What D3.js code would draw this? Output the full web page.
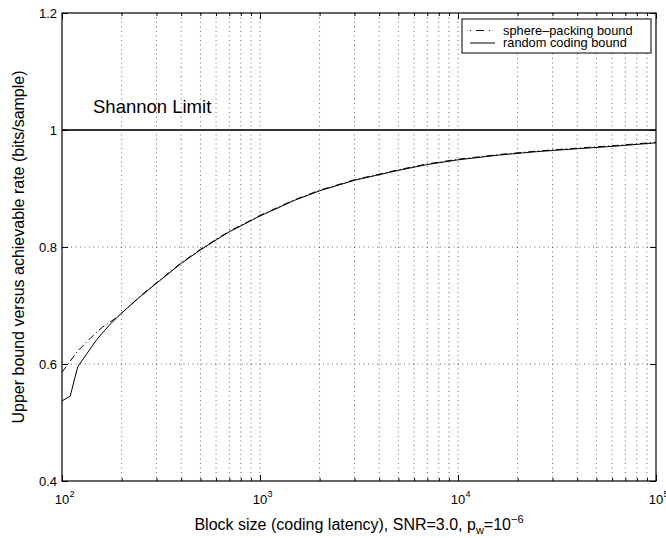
<!DOCTYPE html>
<html>
<head>
<meta charset="utf-8">
<script src="https://cdn.jsdelivr.net/npm/d3@7"></script>
<style>
  html, body { margin: 0; padding: 0; background: #fff; }
  svg { display: block; font-family: "Liberation Sans", Arial, Helvetica, sans-serif; }
</style>
</head>
<body>
<svg id="chart" width="666" height="538"></svg>
<script>
// Block sizes (samples) and rates (bits/sample) for the two bounds
const randomN = [100, 110, 120, 130, 150, 175, 200, 250, 300, 400, 500, 600, 700, 800, 1000,
                 1500, 2000, 3000, 5000, 7000, 10000, 16000, 25000, 40000, 60000, 100000];
const randomRate = [0.537, 0.545, 0.595, 0.612, 0.642, 0.668, 0.687, 0.716, 0.738, 0.772, 0.795,
                    0.812, 0.826, 0.836, 0.853, 0.880, 0.896, 0.914, 0.931, 0.941, 0.949, 0.957,
                    0.963, 0.968, 0.972, 0.978];

const spherePackN = [100, 110, 120, 140, 160, 190, 250, 300, 400, 500, 600, 700, 800, 1000,
                     1500, 2000, 3000, 5000, 7000, 10000, 16000, 25000, 40000, 60000, 100000];
const spherePackRate = [0.586, 0.605, 0.622, 0.645, 0.663, 0.680, 0.717, 0.739, 0.773, 0.796,
                        0.813, 0.827, 0.837, 0.854, 0.881, 0.897, 0.915, 0.932, 0.942, 0.950,
                        0.958, 0.964, 0.969, 0.973, 0.979];

const shannonLimit = 1.0;

const yTicks = [0.4, 0.6, 0.8, 1.0, 1.2];
const xMajorTicks = [100, 1000, 10000, 100000];
const xTickExponents = ["2", "3", "4", "5"];
const xMinorTicks = [];
[100, 1000, 10000].forEach(d => { for (let m = 2; m <= 9; m++) xMinorTicks.push(d * m); });

const seriesNames = ["sphere\u2013packing bound", "random coding bound"];

// Layout
const L = 62, R = 656, T = 13, B = 481;
const svg = d3.select("#chart");

const x = d3.scaleLog().domain([100, 100000]).range([L, R]);
const y = d3.scaleLinear().domain([0.4, 1.2]).range([B, T]);

// Dotted grid
const grid = svg.append("g").attr("stroke", "#000").attr("stroke-width", 0.6)
  .attr("stroke-dasharray", "1,3.5").attr("fill", "none");
xMajorTicks.concat(xMinorTicks).filter(d => d > 100 && d < 100000).forEach(d => {
  grid.append("line").attr("x1", x(d)).attr("x2", x(d)).attr("y1", T).attr("y2", B);
});
yTicks.filter(d => d > 0.4 && d < 1.2).forEach(d => {
  grid.append("line").attr("x1", L).attr("x2", R).attr("y1", y(d)).attr("y2", y(d));
});

// Shannon limit
svg.append("line")
  .attr("x1", x(100)).attr("x2", x(100000))
  .attr("y1", y(shannonLimit)).attr("y2", y(shannonLimit))
  .attr("stroke", "#333").attr("stroke-width", 2.2);

svg.append("text").attr("x", 93).attr("y", 113)
  .attr("font-size", 18.5).text("Shannon Limit");

// Curves
const line = d3.line().x(d => x(d[0])).y(d => y(d[1]));

svg.append("path")
  .datum(randomN.map((n, i) => [n, randomRate[i]]))
  .attr("d", line).attr("fill", "none").attr("stroke", "#000").attr("stroke-width", 1);

svg.append("path")
  .datum(spherePackN.map((n, i) => [n, spherePackRate[i]]))
  .attr("d", line).attr("fill", "none").attr("stroke", "#000").attr("stroke-width", 1)
  .attr("stroke-dasharray", "7,3,1,3");

// Axes with inward ticks
const axisG = svg.append("g");
axisG.append("g").attr("transform", `translate(0,${B})`)
  .call(d3.axisBottom(x).tickValues(xMajorTicks).tickSizeInner(-6).tickSizeOuter(0).tickFormat(""));
axisG.append("g").attr("transform", `translate(0,${B})`)
  .call(d3.axisBottom(x).tickValues(xMinorTicks).tickSizeInner(-3).tickSizeOuter(0).tickFormat(""));
axisG.append("g").attr("transform", `translate(0,${T})`)
  .call(d3.axisTop(x).tickValues(xMajorTicks).tickSizeInner(-6).tickSizeOuter(0).tickFormat(""));
axisG.append("g").attr("transform", `translate(0,${T})`)
  .call(d3.axisTop(x).tickValues(xMinorTicks).tickSizeInner(-3).tickSizeOuter(0).tickFormat(""));
const yAxisLeft = axisG.append("g").attr("transform", `translate(${L},0)`)
  .call(d3.axisLeft(y).tickValues(yTicks).tickSizeInner(-6).tickSizeOuter(0).tickPadding(5)
    .tickFormat(d => d === 1 ? "1" : d.toFixed(1)));
axisG.append("g").attr("transform", `translate(${R},0)`)
  .call(d3.axisRight(y).tickValues(yTicks).tickSizeInner(-6).tickSizeOuter(0).tickFormat(""));

axisG.selectAll(".domain").remove();
axisG.selectAll(".tick line").attr("stroke", "#000");
yAxisLeft.selectAll("text").attr("font-size", 13).attr("fill", "#000")
  .attr("font-family", "Liberation Sans, Arial, sans-serif");

// Frame
svg.append("rect").attr("x", L).attr("y", T).attr("width", R - L).attr("height", B - T)
  .attr("fill", "none").attr("stroke", "#000").attr("stroke-width", 1.2);

// x tick labels: 10^k
const xl = svg.append("g").attr("font-size", 13).attr("text-anchor", "middle");
xMajorTicks.forEach((d, i) => {
  const g = xl.append("g").attr("transform", `translate(${x(d)},504)`);
  g.append("text").attr("x", 0).attr("y", 0).text("10");
  g.append("text").attr("x", 7.5).attr("y", -7).attr("font-size", 9)
    .attr("text-anchor", "start").text(xTickExponents[i]);
});

// Axis labels
const xLabel = svg.append("text").attr("x", (L + R) / 2).attr("y", 530)
  .attr("font-size", 16).attr("text-anchor", "middle");
xLabel.append("tspan").text("Block size (coding latency), SNR=3.0, p");
xLabel.append("tspan").attr("font-size", 11).attr("dy", 4).text("w");
xLabel.append("tspan").attr("dy", -4).text("=10");
xLabel.append("tspan").attr("font-size", 11).attr("dy", -7).text("\u22126");

svg.append("text")
  .attr("transform", `translate(24,${(T + B) / 2}) rotate(-90)`)
  .attr("font-size", 16).attr("text-anchor", "middle")
  .text("Upper bound versus achievable rate (bits/sample)");

// Legend
const leg = svg.append("g");
leg.append("rect").attr("x", 462).attr("y", 19).attr("width", 189).attr("height", 34)
  .attr("fill", "#fff").attr("stroke", "#000").attr("stroke-width", 1);
const rows = [
  { name: seriesNames[0], dash: "1,5,8,5", yy: 30.5 },
  { name: seriesNames[1], dash: null, yy: 43 }
];
rows.forEach(r => {
  const ln = leg.append("line").attr("x1", 470).attr("x2", 495)
    .attr("y1", r.yy).attr("y2", r.yy).attr("stroke", "#000").attr("stroke-width", 1);
  if (r.dash) ln.attr("stroke-dasharray", r.dash);
  leg.append("text").attr("x", 503).attr("y", r.yy + 4.3).attr("font-size", 12.8).text(r.name);
});
</script>
</body>
</html>
